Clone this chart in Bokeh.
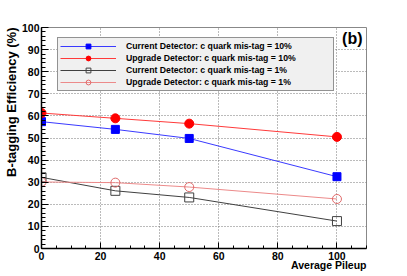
from bokeh.plotting import figure
from bokeh.models import (Range1d, SingleIntervalTicker, Legend, LegendItem, Label, Title)
from bokeh.embed import file_html
from bokeh.resources import INLINE

# ---- data ----
pileup = [0, 25, 50, 100]
cur10 = [57.4, 53.9, 49.8, 32.5]
upg10 = [61.3, 58.9, 56.5, 50.5]
cur1 = [32.2, 26.1, 23.1, 12.4]
upg1 = [30.1, 29.8, 27.8, 22.4]

labels = [
    "Current Detector: c quark mis-tag = 10%",
    "Upgrade Detector: c quark mis-tag = 10%",
    "Current Detector: c quark mis-tag = 1%",
    "Upgrade Detector: c quark mis-tag = 1%",
]
x_title = "Average Pileup"
y_title = "B-tagging Efficiency (%)"
panel_tag = "(b)"

FONT = "Liberation Sans"

p = figure(width=407, height=276, output_backend="svg", toolbar_location=None,
           x_range=Range1d(0, 110), y_range=Range1d(0, 100),
           min_border_left=41, min_border_right=41, min_border_top=27,
           min_border_bottom=28)
p.background_fill_color = "white"
p.border_fill_color = "white"
p.outline_line_color = "#888888"
p.outline_line_width = 1

for ax, interval, nminor, tin, mtin, stand in (
        (p.xaxis[0], 20, 4, 6, 3, 3), (p.yaxis[0], 10, 5, 7, 4, 2)):
    ax.ticker = SingleIntervalTicker(interval=interval, num_minor_ticks=nminor)
    ax.major_tick_in = tin
    ax.major_tick_out = 0
    ax.minor_tick_in = mtin
    ax.minor_tick_out = 0
    ax.axis_line_width = 1.5
    ax.axis_line_color = "black"
    ax.major_tick_line_color = "black"
    ax.minor_tick_line_color = "black"
    ax.major_label_text_font = FONT
    ax.major_label_text_font_style = "bold"
    ax.major_label_text_font_size = "10.5px"
    ax.major_label_text_color = "black"
    ax.major_label_standoff = stand

for g in (p.xgrid[0], p.ygrid[0]):
    g.grid_line_color = "#777777"
    g.grid_line_dash = "1 2"
    g.grid_line_width = 1

styles = [
    (cur10, "#3a3aff", "square", "#0000ff", "#0000ff", 8),
    (upg10, "#ff3a3a", "circle", "#ff0000", "#ff0000", 9),
    (cur1, "#404040", "square", "#404040", None, 9),
    (upg1, "#ec8a8a", "circle", "#e06a6a", None, 9),
]
items = []
for (ys, lc, mk, mlc, mfc, sz), lab in zip(styles, labels):
    r1 = p.line(pileup, ys, line_color=lc, line_width=1)
    r2 = p.scatter(pileup, ys, marker=mk, size=sz, line_color=mlc,
                   fill_color=mfc if mfc else "white",
                   fill_alpha=1 if mfc else 0, line_width=1)
    items.append(LegendItem(label=lab, renderers=[r1, r2]))

legend = Legend(items=items, location=(16, 157), padding=2, spacing=0,
                glyph_height=12, label_height=12, glyph_width=56,
                label_standoff=10, label_width=205, margin=0,
                border_line_color="#333333", border_line_width=1,
                background_fill_color="#f0f0f0", background_fill_alpha=1,
                label_text_font=FONT, label_text_font_style="bold",
                label_text_font_size="8.7px", label_text_color="black")
p.add_layout(legend, "center")

p.add_layout(Title(text=x_title, align="right", standoff=-11, offset=0,
                   text_font=FONT, text_font_style="bold",
                   text_font_size="10.5px", text_color="black"), "below")
p.add_layout(Title(text=y_title, align="right", standoff=0, offset=0,
                   text_font=FONT, text_font_style="bold",
                   text_font_size="13px", text_color="black"), "left")
p.add_layout(Label(x=321, y=210, x_units="screen", y_units="screen",
                   text=panel_tag, text_align="right", text_baseline="middle",
                   text_font=FONT, text_font_style="bold",
                   text_font_size="16px", text_color="black"))

open("out.html", "w").write(file_html(p, INLINE))
